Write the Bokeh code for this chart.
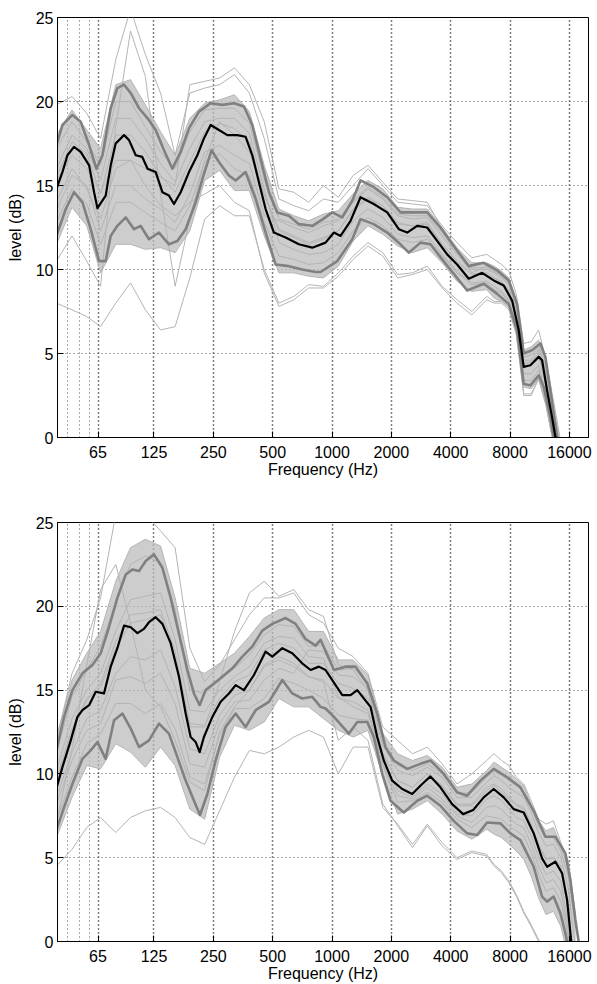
from bokeh.plotting import figure
from bokeh.models import Range1d, FixedTicker
from bokeh.layouts import column
from bokeh.embed import file_html
from bokeh.resources import INLINE

# ---------------- axis data ----------------
freq_ticks = [65, 125, 250, 500, 1000, 2000, 4000, 8000, 16000]
freq_tick_labels = ["65", "125", "250", "500", "1000", "2000", "4000", "8000", "16000"]
freq_minor = [45.5, 52.4, 58.6]
level_ticks = [0, 5, 10, 15, 20, 25]

# shared frequency grid of the individual (light) curves
grid_freq = [40, 48, 57, 67, 80, 95, 113, 135, 160, 190, 226, 269, 320, 381, 453, 538, 640, 761,
             905, 1076, 1280, 1522, 1810, 2153, 2560, 3044, 3620, 4305, 5120, 6089, 6640, 7241,
             7896, 8611, 9390, 10240, 11167, 12177, 13279, 14482, 15792, 17222]

# ---------------- top panel ----------------
top_c01 = [19.8, 20.3, 19.3, 17.8, 22.5, 25.5, 22.8, 20.5, 16.8, 20.5, 20.8, 21.0, 21.6, 20.5, 17.8, 14.2, 13.8, 13.5, 14.2, 14.0, 15.0, 16.0, 15.0, 14.0, 13.9, 13.8, 12.6, 11.6, 10.7, 10.9, 10.6, 10.3, 9.9, 8.5, 5.6, 5.7, 6.4, 4.6, 2.2, -0.3, -2.5, -5]
top_c02 = [8.0, 7.6, 7.2, 6.6, 8.0, 9.2, 7.6, 6.4, 6.6, 9.5, 13.0, 13.8, 13.2, 13.2, 10.0, 8.0, 8.4, 9.1, 9.0, 9.8, 10.8, 11.6, 11.0, 9.7, 9.8, 10.2, 9.0, 8.2, 7.5, 8.4, 8.1, 8.1, 7.7, 6.2, 2.6, 2.6, 3.5, 1.9, -0.3, -2, -4, -6]
top_c03 = [18.0, 19.5, 18.3, 17.2, 21.0, 21.3, 19.8, 18.2, 16.8, 19.0, 19.9, 20.1, 20.4, 19.4, 16.2, 13.6, 13.2, 12.9, 13.3, 13.5, 14.5, 15.3, 14.8, 13.7, 13.6, 13.6, 12.5, 11.3, 10.4, 10.4, 10.2, 9.9, 9.5, 8.1, 5.2, 5.4, 5.8, 4.5, 2.0, -0.8, -3, -5]
top_c04 = [11.5, 13.7, 12.6, 9.8, 11.5, 11.5, 11.2, 11.3, 11.0, 12.3, 15.3, 15.9, 14.7, 14.7, 12.0, 9.8, 9.8, 9.6, 9.5, 10.2, 11.7, 12.6, 12.1, 11.4, 11.0, 11.3, 10.4, 9.3, 8.7, 8.8, 8.3, 8.1, 7.8, 6.2, 3.0, 2.9, 3.5, 2.1, -0.2, -2.2, -4, -6]
top_c05 = [16.0, 18.0, 17.2, 15.3, 19.0, 19.0, 17.8, 16.3, 15.2, 17.2, 18.8, 19.0, 19.0, 18.1, 14.8, 11.6, 11.2, 10.9, 11.0, 11.5, 12.9, 13.6, 13.1, 12.1, 11.9, 12.0, 10.9, 9.9, 9.2, 9.3, 9.0, 8.7, 8.2, 6.6, 3.8, 3.8, 4.3, 2.6, 0.3, -1.8, -3.5, -5]
top_c06 = [13.5, 15.6, 15.0, 12.3, 15.0, 15.0, 14.2, 13.6, 12.8, 14.5, 17.0, 17.4, 16.8, 16.3, 13.2, 12.9, 12.5, 12.2, 12.6, 12.9, 14.0, 14.8, 14.2, 13.2, 13.0, 13.1, 12.0, 10.9, 10.0, 10.0, 9.8, 9.5, 9.1, 7.6, 4.8, 4.9, 5.3, 3.8, 1.4, -1.1, -3, -5]
top_c07 = [10.5, 12.0, 10.5, 9.0, 18.5, 24.2, 21.5, 14.5, 9.0, 13.0, 16.5, 18.8, 18.0, 17.0, 14.5, 12.3, 11.9, 11.5, 11.8, 12.3, 13.5, 14.2, 13.8, 12.7, 12.6, 12.8, 11.5, 10.5, 9.7, 9.8, 9.5, 9.2, 8.7, 7.2, 4.4, 4.5, 5.0, 3.0, 0.8, -1.5, -3, -5]
top_c08 = [15.3, 16.8, 16.0, 14.6, 16.5, 16.5, 16.0, 15.5, 15.0, 21.0, 21.2, 21.4, 22.0, 21.0, 18.8, 14.8, 14.6, 14.0, 15.0, 14.3, 15.6, 16.2, 15.2, 14.2, 14.1, 14.0, 12.4, 11.0, 9.8, 10.2, 9.9, 9.7, 9.4, 7.8, 4.6, 4.6, 5.2, 3.3, 1.0, -1.0, -3, -5]
top_c09 = [14.0, 16.0, 14.8, 13.0, 16.0, 16.5, 15.0, 13.8, 13.2, 14.0, 14.5, 15.0, 14.0, 13.5, 9.8, 7.8, 8.2, 8.9, 8.9, 9.6, 10.6, 11.4, 10.8, 9.5, 9.7, 10.0, 8.9, 8.0, 7.3, 8.2, 8.0, 8.0, 7.6, 6.1, 2.5, 2.5, 3.5, 1.9, -0.4, -2, -4, -6]
top_c10 = [15.5, 17.6, 16.9, 14.5, 18.0, 18.0, 17.0, 15.6, 14.6, 16.4, 18.2, 18.7, 18.4, 17.6, 14.4, 12.4, 12.0, 11.6, 11.9, 12.3, 13.6, 14.3, 13.8, 12.8, 12.6, 12.7, 11.5, 10.5, 9.7, 9.8, 9.5, 9.3, 8.8, 7.2, 4.4, 4.5, 4.9, 3.1, 0.7, -1.3, -3, -5]
top_c11 = [12.8, 14.8, 13.9, 11.5, 14.0, 14.0, 13.4, 12.8, 12.3, 13.8, 16.4, 16.9, 16.0, 15.6, 12.8, 10.8, 10.6, 10.3, 10.4, 11.0, 12.3, 13.1, 12.6, 11.8, 11.6, 11.8, 10.8, 9.8, 9.1, 9.2, 8.8, 8.6, 8.1, 6.6, 3.4, 3.4, 4.0, 2.4, 0.1, -1.8, -3.5, -6]
top_c12 = [17.2, 18.8, 17.6, 16.2, 20.0, 20.0, 18.5, 17.0, 16.0, 18.2, 19.5, 19.6, 19.6, 18.7, 15.4, 13.0, 12.7, 12.4, 12.8, 13.0, 14.1, 14.9, 14.3, 13.3, 13.2, 13.2, 12.2, 11.0, 10.1, 10.1, 9.9, 9.6, 9.2, 7.8, 5.0, 5.1, 5.5, 4.1, 1.7, -0.6, -2.8, -5]

top_mean_freq = [40, 42.9, 45.5, 49.1, 53.1, 58.6, 62.1, 64.6, 71.1, 75.4, 79.9, 88.1, 93.4, 101, 109, 116, 127.5, 137.9, 148.9, 157.9, 170.7, 188.1, 207.4, 224, 242.3, 266.9, 294.4, 330.9, 364.5, 394.2, 425.8, 460.4, 507.2, 581.5, 679, 794, 927, 1023, 1105, 1242, 1395, 1629, 1905, 2182, 2406, 2704, 3039, 3415, 3838, 4313, 4939, 5774, 6611, 7429, 8195, 8850, 9382, 10144, 11179, 11631, 12331, 13071, 13585, 14400]
top_mean = [14.8, 15.8, 16.8, 17.3, 17.0, 16.2, 14.6, 13.65, 14.4, 16.2, 17.5, 18.0, 17.7, 16.8, 16.7, 16.0, 15.8, 14.6, 14.4, 13.9, 14.6, 15.8, 16.8, 17.8, 18.6, 18.3, 18.0, 18.0, 17.9, 16.8, 15.2, 13.6, 12.2, 11.9, 11.5, 11.3, 11.6, 12.2, 12.0, 12.9, 14.3, 13.9, 13.4, 12.4, 12.2, 12.6, 12.5, 11.7, 10.9, 10.3, 9.45, 9.8, 9.35, 9.05, 8.15, 6.4, 4.2, 4.3, 4.8, 4.6, 2.8, 1.2, 0.04, -1.5]

top_hi_freq = [40, 42.9, 48.2, 53.1, 58.6, 63.8, 68.5, 75.4, 81.5, 88.1, 95.3, 104.9, 116, 127.5, 140.5, 154.9, 170.7, 188.1, 211.4, 242.3, 277.7, 318, 357.4, 394.2, 434.2, 478.5, 527.7, 604, 679, 794, 900, 1003, 1127, 1267, 1395, 1629, 1905, 2225, 2599, 3039, 3549, 4145, 4939, 5883, 6878, 7877, 8688, 9382, 10348, 11403, 12087, 12815, 13857, 14600]
top_hi = [17.4, 18.6, 19.2, 18.8, 17.4, 16.0, 16.8, 19.6, 20.8, 21.0, 20.5, 19.6, 19.0, 18.3, 17.1, 16.0, 17.0, 18.4, 19.4, 19.9, 19.8, 19.9, 19.7, 18.6, 16.6, 14.6, 13.4, 13.2, 12.7, 12.6, 13.0, 13.4, 13.1, 14.1, 15.3, 14.9, 14.3, 13.4, 13.4, 13.4, 12.5, 11.4, 10.2, 10.4, 9.95, 9.35, 7.95, 5.0, 5.2, 5.6, 4.8, 2.8, 0.0, -1.5]

top_lo_freq = [40, 44.6, 49.1, 54.2, 59.7, 65.8, 71.1, 75.4, 81.5, 89.9, 99.0, 107, 117.9, 132.5, 148.9, 164.3, 181, 203.4, 224, 245.1, 266.9, 300, 324.4, 364.5, 409.7, 460.4, 517, 604, 705.8, 825, 875, 1063, 1267, 1395, 1629, 1905, 2225, 2451, 2810, 3158, 3620, 4145, 4847, 5883, 6878, 7877, 8688, 9382, 10144, 11179, 11850, 12815, 13318, 14200]
top_lo = [12.0, 13.6, 14.6, 14.0, 12.4, 10.5, 10.5, 12.0, 12.6, 13.1, 12.4, 12.6, 11.8, 12.2, 11.5, 11.7, 12.4, 14.0, 15.7, 17.1, 16.4, 15.6, 15.3, 15.8, 14.2, 12.2, 10.3, 10.2, 10.0, 9.85, 9.85, 10.5, 11.8, 13.0, 12.7, 12.2, 11.5, 11.0, 11.6, 11.5, 10.6, 9.75, 8.75, 9.15, 8.55, 7.95, 6.4, 3.2, 3.1, 3.7, 3.0, 1.2, 0.0, -1.5]

# ---------------- bottom panel ----------------
bot_c01 = [12.0, 16.0, 18.0, 20.5, 25.5, 25.5, 25.5, 24.5, 23.5, 17.5, 15.5, 16.5, 18.0, 19.5, 20.5, 20.5, 20.8, 19.5, 19.0, 17.5, 17.0, 16.0, 12.8, 12.0, 11.2, 11.6, 10.6, 9.4, 10.0, 10.8, 11.2, 10.8, 10.5, 9.8, 9.4, 8.4, 7.3, 7.0, 7.2, 5.9, 4.8, 1.5]
bot_c02 = [4.5, 5.5, 6.8, 7.4, 6.5, 7.4, 7.8, 8.0, 7.4, 6.2, 5.8, 7.8, 9.8, 11.4, 11.2, 11.6, 12.2, 12.6, 12.2, 10.0, 11.6, 11.6, 8.0, 7.0, 5.8, 7.0, 5.9, 5.0, 5.4, 5.2, 4.6, 4.2, 3.6, 2.8, 1.8, 1.0, 0.1, -0.5, -1, -1.5, -2, -4]
bot_c03 = [12.2, 15.6, 17.2, 18.5, 21.5, 23.5, 24.0, 23.6, 20.5, 16.3, 16.0, 16.6, 17.2, 18.2, 19.3, 19.8, 19.8, 18.5, 18.5, 16.8, 16.8, 15.9, 12.4, 11.2, 10.8, 11.1, 10.4, 9.2, 9.4, 10.2, 10.7, 10.4, 10.1, 9.7, 9.3, 8.2, 7.2, 6.6, 6.8, 5.7, 4.4, 0.8]
bot_c04 = [6.2, 8.6, 10.5, 10.3, 11.8, 11.3, 10.4, 11.6, 10.5, 7.9, 7.3, 11.0, 12.9, 12.6, 13.1, 14.5, 14.0, 14.0, 13.3, 12.6, 12.2, 12.6, 9.9, 7.6, 7.9, 8.4, 7.6, 6.6, 6.1, 6.7, 6.4, 6.2, 5.8, 5.4, 4.9, 3.9, 2.6, 1.6, 1.8, 0.9, -1.0, -4.5]
bot_c05 = [10.2, 13.3, 15.0, 16.0, 18.5, 20.4, 20.6, 20.8, 18.0, 13.8, 13.7, 15.0, 15.8, 16.4, 17.8, 18.2, 18.1, 17.0, 16.9, 14.6, 14.0, 13.6, 10.6, 8.7, 8.5, 9.2, 8.5, 7.5, 7.1, 8.0, 8.1, 7.9, 7.4, 7.0, 6.8, 5.8, 4.5, 3.5, 3.7, 3.0, 0.6, -3.5]
bot_c06 = [8.2, 10.8, 12.6, 13.0, 15.6, 15.8, 15.4, 16.0, 14.2, 10.6, 10.4, 13.0, 14.3, 14.4, 15.6, 16.3, 16.0, 17.4, 17.3, 15.9, 15.8, 15.1, 11.7, 10.2, 9.9, 10.4, 9.8, 8.6, 8.6, 9.5, 9.9, 9.6, 9.2, 8.9, 8.6, 7.7, 6.5, 5.7, 5.8, 5.0, 3.2, -0.5]
bot_c07 = [7.0, 11.5, 16.5, 21.0, 22.5, 19.0, 15.0, 14.0, 12.0, 9.5, 9.0, 12.5, 14.0, 15.0, 16.5, 17.0, 16.6, 15.8, 15.6, 14.5, 14.3, 13.8, 10.8, 9.0, 8.6, 9.4, 8.8, 7.6, 7.5, 8.5, 8.7, 8.4, 7.9, 7.4, 7.2, 6.3, 5.0, 4.0, 4.2, 3.6, 1.0, -3]
bot_c08 = [9.5, 12.5, 14.4, 15.2, 17.5, 19.0, 19.2, 19.5, 17.0, 12.8, 12.8, 15.5, 18.5, 20.8, 21.5, 20.6, 21.0, 19.8, 19.4, 16.5, 16.2, 15.0, 11.2, 9.6, 9.2, 10.0, 9.3, 8.2, 8.2, 9.2, 9.4, 9.1, 8.6, 8.2, 8.0, 7.0, 5.8, 4.9, 5.0, 4.5, 1.8, -2.5]
bot_c09 = [8.6, 11.3, 13.3, 13.8, 16.0, 17.0, 16.8, 17.4, 15.2, 11.5, 11.2, 13.5, 14.7, 15.0, 16.4, 16.8, 16.4, 15.8, 15.5, 12.0, 12.8, 12.0, 8.2, 6.9, 5.6, 6.9, 5.7, 4.9, 5.3, 5.1, 4.5, 4.1, 3.5, 2.7, 1.7, 0.9, 0.0, -0.6, -1, -1.5, -2, -4]
bot_c10 = [9.7, 12.7, 14.5, 15.4, 17.9, 19.5, 19.6, 19.8, 17.3, 13.0, 12.9, 14.5, 15.5, 15.9, 17.4, 17.8, 17.5, 16.6, 16.6, 15.4, 15.1, 14.5, 11.2, 9.6, 9.2, 10.0, 9.3, 8.1, 8.1, 9.0, 9.3, 8.9, 8.5, 8.1, 7.9, 7.0, 5.8, 4.9, 5.0, 4.5, 1.9, -2]
bot_c11 = [7.2, 9.8, 11.8, 12.4, 14.2, 14.2, 13.6, 14.2, 12.7, 9.8, 9.4, 12.3, 13.9, 13.9, 14.5, 15.7, 15.4, 15.0, 14.5, 13.5, 13.3, 13.2, 10.5, 8.3, 8.4, 8.9, 8.3, 7.3, 6.8, 7.5, 7.4, 7.3, 6.9, 6.6, 6.3, 5.3, 4.0, 3.0, 3.2, 2.4, 0.3, -4]
bot_c12 = [11.3, 14.6, 16.2, 17.6, 20.3, 22.5, 23.0, 22.6, 19.8, 15.0, 14.8, 15.6, 16.3, 17.1, 18.3, 18.9, 18.8, 17.6, 17.7, 16.2, 16.3, 15.5, 11.9, 10.5, 10.2, 10.6, 10.0, 8.8, 8.9, 9.8, 10.2, 9.9, 9.6, 9.3, 8.9, 8.0, 6.9, 6.2, 6.2, 5.4, 3.9, 1.0]

bot_mean_freq = [40, 42.9, 47.3, 51.1, 54.2, 58.6, 63.3, 69.7, 75.4, 81.5, 88.1, 95.3, 103, 111.2, 117.9, 127.5, 137.9, 151.9, 167.4, 181, 191.8, 203.4, 213.1, 224, 247.1, 272.3, 300, 324.4, 357.4, 401.7, 460.4, 497.8, 559.5, 628.7, 705.8, 778.5, 857.7, 927, 1003, 1127, 1242, 1343, 1568, 1695, 1831, 2020, 2270, 2551, 2867, 3158, 3549, 4068, 4626, 5201, 5883, 6611, 7429, 8349, 9382, 10544, 11631, 12331, 13585, 14688, 15570, 16315, 17000]
bot_mean = [9.13, 10.4, 12.0, 13.4, 13.8, 14.1, 14.9, 14.8, 16.4, 17.5, 18.85, 18.75, 18.4, 18.65, 19.05, 19.35, 18.95, 17.8, 15.8, 13.6, 12.2, 11.9, 11.3, 12.2, 13.4, 14.3, 14.8, 15.3, 15.0, 15.9, 17.3, 17.0, 17.5, 17.2, 16.6, 16.2, 16.4, 16.2, 15.6, 14.7, 14.7, 15.0, 14.0, 12.2, 10.8, 9.6, 9.1, 8.8, 9.4, 9.85, 9.2, 8.2, 7.6, 7.85, 8.6, 9.1, 8.6, 7.9, 7.7, 6.45, 4.96, 4.46, 4.76, 4.07, 2.5, 0.1, -2]

bot_hi_freq = [40, 43.7, 48.2, 54.2, 60.9, 67.1, 73.9, 81.5, 89.9, 97.2, 104.9, 113.5, 125, 137.9, 151.9, 167.4, 184.6, 199.4, 213.1, 228.5, 251.8, 277.7, 312.1, 350.8, 394.2, 443, 497.8, 581.5, 653.5, 734.2, 825, 875, 1023, 1171, 1316, 1509, 1695, 1868, 2058, 2406, 2810, 3158, 3688, 4313, 4847, 5661, 6611, 7731, 9027, 10544, 12087, 13585, 15267, 16183, 17154, 17829, 18500]
bot_hi = [11.4, 13.4, 15.0, 16.0, 16.5, 17.2, 18.75, 20.5, 21.9, 22.2, 22.1, 22.7, 23.1, 22.3, 20.5, 18.35, 16.2, 14.8, 14.1, 15.0, 15.4, 15.8, 16.3, 17.0, 17.6, 18.55, 18.95, 19.3, 18.95, 18.05, 17.65, 18.0, 16.2, 16.4, 16.4, 15.4, 13.6, 11.6, 10.8, 10.3, 10.6, 10.8, 10.0, 8.9, 8.7, 9.6, 10.3, 9.8, 9.2, 7.8, 6.25, 6.25, 5.26, 3.67, 1.3, 0, -2]

bot_lo_freq = [40, 43.7, 48.2, 54.2, 59.7, 64.6, 71.1, 78.4, 86.5, 95.3, 104.9, 117.9, 132.5, 148.9, 164.3, 181, 199.4, 213.9, 233.1, 256.8, 288.6, 324.4, 364.5, 409.7, 478.5, 559.5, 628.7, 705.8, 794, 875, 927, 1023, 1217, 1343, 1509, 1629, 1797, 1980, 2313, 2704, 3039, 3549, 4145, 4847, 5447, 6121, 7149, 8035, 9027, 10544, 11631, 12331, 13318, 14400, 15267, 15570, 16200]
bot_lo = [6.65, 8.0, 9.4, 10.9, 11.4, 11.9, 10.9, 13.2, 13.6, 12.7, 11.6, 12.0, 13.0, 12.4, 11.0, 9.6, 8.4, 7.55, 8.8, 10.8, 12.8, 13.6, 12.8, 13.8, 14.3, 15.6, 14.8, 14.5, 14.6, 14.0, 13.9, 13.4, 12.4, 13.1, 13.1, 12.2, 10.0, 8.4, 7.7, 8.4, 8.7, 8.1, 7.2, 6.45, 6.35, 7.1, 7.05, 6.45, 6.05, 4.46, 2.68, 2.38, 2.68, 1.69, 0.5, 0.0, -2]

top_light = [top_c01, top_c02, top_c03, top_c04, top_c05, top_c06, top_c07, top_c08, top_c09, top_c10, top_c11, top_c12]
bot_light = [bot_c01, bot_c02, bot_c03, bot_c04, bot_c05, bot_c06, bot_c07, bot_c08, bot_c09, bot_c10, bot_c11, bot_c12]

FONT = "Liberation Sans"
LIGHT = "#b4b4b4"
MID = "#808080"


def make_panel(height, border_top, border_bottom, light, band_lo, band_hi,
               mean_f, mean_v, hi_f, hi_v, lo_f, lo_v):
    p = figure(width=597, height=height, x_axis_type="log",
               x_range=Range1d(40.5, 20000), y_range=Range1d(0, 25),
               output_backend="svg", toolbar_location=None,
               min_border_left=57, min_border_right=9,
               min_border_top=border_top, min_border_bottom=border_bottom)
    p.background_fill_color = "white"
    p.border_fill_color = "white"
    p.outline_line_color = "black"
    p.outline_line_width = 1

    xt = FixedTicker(ticks=freq_ticks, minor_ticks=freq_minor)
    yt = FixedTicker(ticks=level_ticks)
    p.xaxis.ticker = xt
    p.yaxis.ticker = yt
    p.xgrid.ticker = xt
    p.ygrid.ticker = yt
    p.xaxis.major_label_overrides = {t: s for t, s in zip(freq_ticks, freq_tick_labels)}

    for ax in (p.xaxis[0], p.yaxis[0]):
        ax.major_tick_in = 6
        ax.major_tick_out = 0
        ax.minor_tick_line_color = None
        ax.axis_line_color = "black"
        ax.major_tick_line_color = "black"
        ax.major_label_text_font = FONT
        ax.major_label_text_font_size = "16px"
        ax.major_label_text_color = "black"
        ax.axis_label_text_font = FONT
        ax.axis_label_text_font_size = "16px"
        ax.axis_label_text_font_style = "normal"
        ax.axis_label_text_color = "black"
        ax.major_label_standoff = 4
    p.xaxis.axis_label = "Frequency (Hz)"
    p.xaxis.axis_label_standoff = 0
    p.yaxis.axis_label = "level (dB)"
    p.yaxis.axis_label_standoff = 9

    p.xgrid.grid_line_color = "black"
    p.xgrid.grid_line_dash = "1 3"
    p.xgrid.grid_line_width = 1.5
    p.xgrid.minor_grid_line_color = "#555555"
    p.xgrid.minor_grid_line_dash = "1 3"
    p.ygrid.grid_line_color = "#555555"
    p.ygrid.grid_line_dash = "1 3"

    # dense core of the many individual curves
    p.varea(x=grid_freq, y1=band_lo, y2=band_hi, fill_color="#b8b8b8", fill_alpha=0.7)
    for c in light:
        p.line(grid_freq, c, line_color=LIGHT, line_width=1, line_join="round")
    p.line(hi_f, hi_v, line_color=MID, line_width=2.6, line_join="round")
    p.line(lo_f, lo_v, line_color=MID, line_width=2.6, line_join="round")
    p.line(mean_f, mean_v, line_color="black", line_width=2.2, line_join="round")
    return p


p1 = make_panel(490, 17, 53, top_light, top_c04, top_c03,
                top_mean_freq, top_mean, top_hi_freq, top_hi, top_lo_freq, top_lo)
p2 = make_panel(494, 32, 42, bot_light, bot_c04, bot_c03,
                bot_mean_freq, bot_mean, bot_hi_freq, bot_hi, bot_lo_freq, bot_lo)

layout = column(p1, p2, spacing=0)
open("out.html", "w").write(file_html(layout, INLINE))
